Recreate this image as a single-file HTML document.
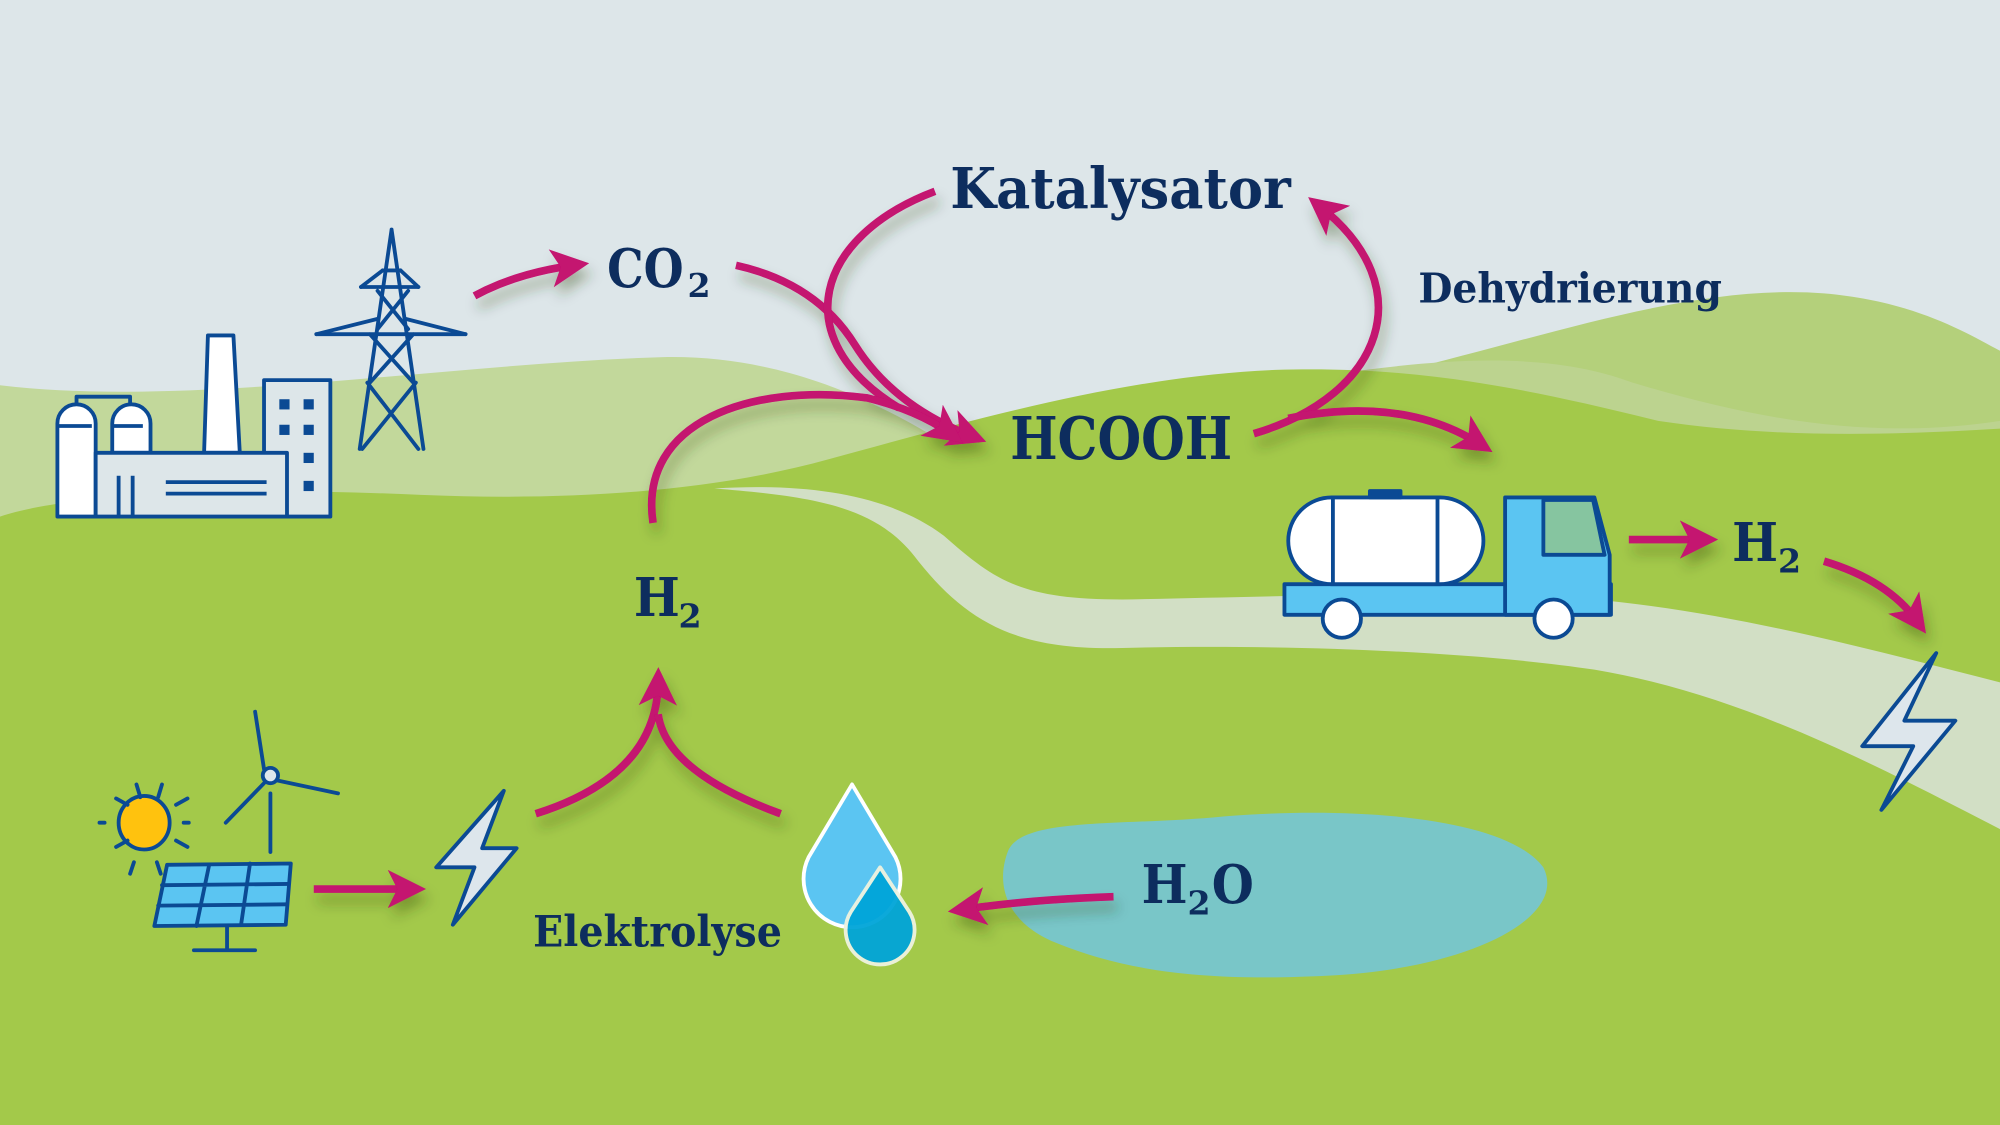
<!DOCTYPE html>
<html><head><meta charset="utf-8"><style>
html,body{margin:0;padding:0;width:2000px;height:1125px;overflow:hidden;background:#dde6e9}
svg{display:block}
text{font-family:"DejaVu Serif","Liberation Serif",serif;font-weight:bold;fill:#0d2d5e}
</style></head><body>
<svg width="2000" height="1125" viewBox="0 0 1568 882" xmlns="http://www.w3.org/2000/svg">
<defs>
<marker id="ah" viewBox="0 0 10 10" refX="6" refY="5" markerWidth="5" markerHeight="5" orient="auto" markerUnits="strokeWidth">
<path d="M0,0 L10,5 L0,10 L2.5,5 z" fill="#c4126f"/></marker>
<filter id="sh" x="-20%" y="-20%" width="140%" height="160%"><feDropShadow dx="3" dy="8" stdDeviation="5" flood-color="#2a3a10" flood-opacity="0.35"/></filter>
</defs>
<rect width="1568" height="882" fill="#dde6e9"/>
<path d="M1000,310 C1150,290 1300,220 1430,230 C1500,236 1540,260 1568,275 L1568,882 L1000,882 Z" fill="#b4d07b"/>
<path d="M0,302 C150,320 350,285 520,280 C620,278 700,320 760,360 L760,882 L0,882 Z" fill="#c2d89b"/>
<path d="M1000,300 C1100,285 1200,270 1280,300 C1380,330 1470,345 1568,330 L1568,882 L1000,882Z" fill="#bcd38f"/>
<path d="M0,405 C60,385 200,382 330,388 C450,393 560,385 650,360 C760,330 880,295 1000,290 C1100,287 1180,300 1300,330 C1400,345 1500,340 1568,336 L1568,882 L0,882 Z" fill="#a3c94a"/>
<path d="M560,383 C640,378 700,390 740,420 C780,455 800,470 880,470 C1000,468 1150,462 1250,470 C1360,480 1470,510 1568,535 L1568,650 C1480,605 1370,545 1250,525 C1150,510 1000,505 880,508 C800,510 760,490 720,440 C690,400 650,390 560,383 Z" fill="#d2dfc5"/>
<path d="M790,668 C800,640 880,648 960,640 C1060,632 1180,640 1210,680 C1230,720 1150,760 1040,765 C940,770 880,760 830,740 C790,725 780,695 790,668 Z" fill="#79c6c8"/>

<g stroke="#0b4a94" stroke-width="3" stroke-linejoin="round">
<path d="M45,405 L45,332 A15,15 0 0 1 75,332 L75,405 Z" fill="#fff"/>
<path d="M88,355 L88,332 A15,15 0 0 1 118,332 L118,355 Z" fill="#fff"/>
<path d="M60,317 L60,311 L102,311 L102,317" fill="none"/>
<line x1="46" y1="334" x2="72" y2="334"/><line x1="89" y1="334" x2="112" y2="334"/>
<path d="M163,263 L183,263 L188,355 L160,355 Z" fill="#fff"/>
<rect x="207" y="298" width="52" height="107" fill="#dde6e9"/>
<rect x="75" y="355" width="150" height="50" fill="#dde6e9"/>
<line x1="93" y1="373" x2="93" y2="405"/><line x1="104" y1="373" x2="104" y2="405"/>
<line x1="130" y1="378" x2="209" y2="378"/><line x1="130" y1="387" x2="209" y2="387"/>
</g>
<g fill="#0b4a94"><rect x="219" y="313" width="8" height="8"/><rect x="238" y="313" width="8" height="8"/><rect x="219" y="333" width="8" height="8"/><rect x="238" y="333" width="8" height="8"/><rect x="238" y="355" width="8" height="8"/><rect x="238" y="377" width="8" height="8"/></g>
<g stroke="#0b4a94" stroke-width="3" fill="none" stroke-linecap="round" stroke-linejoin="round">
<path d="M307,180 L282,352 M307,180 L332,352"/>
<path d="M283,225 L328,225 M300,212 L314,212 M248,262 L365,262 M296,228 L320,258 M320,228 L296,258 M290,262 L324,300 M324,262 L290,300 M288,300 L328,352 M326,300 L284,352"/>
<path d="M283,225 L300,212 M328,225 L314,212 M248,262 L296,250 M365,262 L318,250"/>
</g>

<g fill="none" stroke="#c4126f" stroke-width="6" marker-end="url(#ah)" filter="url(#sh)">
<path d="M372,232 Q405,214 450,208"/>
<path d="M577,208 Q640,222 670,270 Q700,318 762,342"/>
<path d="M733,150 C640,185 615,265 705,320" marker-end="none"/>
<path d="M512,410 C500,330 590,300 680,312 Q720,322 745,340" />
<path d="M983,340 C1085,310 1115,225 1035,162"/>
<path d="M1010,328 Q1100,310 1160,348"/>
<path d="M1277,423 L1335,423"/>
<path d="M1430,440 Q1480,455 1503,487"/>
<path d="M420,638 Q515,608 516,535"/>
<path d="M612,638 Q522,605 516,560" marker-end="none"/>
<path d="M246,697 L322,697"/>
<path d="M873,703 Q810,705 755,713"/>
</g>

<g stroke="#0b4a94" stroke-width="3" stroke-linejoin="round">
<rect x="1007" y="458" width="256" height="24" fill="#5bc5f2"/>
<path d="M1180,482 L1180,390 L1250,390 L1262,435 L1262,482 Z" fill="#5bc5f2"/>
<path d="M1210,392 L1249,392 L1258,435 L1210,435 Z" fill="#86c5a0"/>
<rect x="1010" y="390" width="153" height="68" rx="34" fill="#fff"/>
<rect x="1074" y="385" width="24" height="5" fill="#0b4a94"/>
<line x1="1045" y1="390" x2="1045" y2="458"/><line x1="1127" y1="390" x2="1127" y2="458"/>
<circle cx="1052" cy="485" r="15" fill="#fff"/><circle cx="1218" cy="485" r="15" fill="#fff"/>
</g>
<polygon points="1518,512 1460,585 1500,585 1475,635 1533,565 1493,565" fill="#dde6ec" stroke="#0b4a94" stroke-width="3" stroke-linejoin="round"/>
<polygon points="395,620 342,680 372,680 355,725 405,665 378,665" fill="#dde6ec" stroke="#0b4a94" stroke-width="3" stroke-linejoin="round"/>

<g stroke="#0b4a94" stroke-width="3" stroke-linecap="round">
<ellipse cx="113" cy="645" rx="20" ry="21" fill="#ffc20e"/>
<path d="M107,615 L110,625 M127,615 L124,625 M91,626 L100,631 M138,631 L147,626 M91,664 L100,659 M138,659 L147,664 M105,676 L102,685 M123,676 L126,685 M78,645 L82,645 M144,645 L148,645"/>
<path d="M207,603 L200,558 M218,612 L265,622 M207,614 L177,645 M212,622 L212,668" fill="none"/>
<circle cx="212" cy="608" r="6" fill="#dde6ec"/>
<path d="M131,678 L228,677 L224,725 L121,726 Z" fill="#5bc5f2" stroke-linejoin="round"/>
<path d="M127,694 L226,693 M124,710 L225,709 M164,678 L154,726 M196,677 L189,725 M178,726 L178,745 M152,745 L200,745" fill="none"/>
</g>

<path d="M668,615 L702,672 A38,38 0 1 1 634,672 Z" fill="#5bc5f2" stroke="#fff" stroke-width="3" stroke-linejoin="round"/>
<path d="M690,680 L713,715 A27,27 0 1 1 667,715 Z" fill="#00a5d9" stroke="#eef3e0" stroke-width="3" stroke-linejoin="round" opacity="0.95"/>

<text x="745" y="163" font-size="44" textLength="267" lengthAdjust="spacingAndGlyphs">Katalysator</text>
<text x="476" y="225" font-size="42" textLength="60" lengthAdjust="spacingAndGlyphs">CO</text><text x="539" y="233" font-size="26">2</text>
<text x="1112" y="237" font-size="32" textLength="238" lengthAdjust="spacingAndGlyphs">Dehydrierung</text>
<text x="792" y="360" font-size="46" textLength="174" lengthAdjust="spacingAndGlyphs">HCOOH</text>
<text x="497" y="483" font-size="42" textLength="36" lengthAdjust="spacingAndGlyphs">H</text><text x="532" y="492" font-size="26">2</text>
<text x="1358" y="440" font-size="42" textLength="36" lengthAdjust="spacingAndGlyphs">H</text><text x="1394" y="449" font-size="26">2</text>
<text x="895" y="708" font-size="42" textLength="36" lengthAdjust="spacingAndGlyphs">H</text><text x="931" y="717" font-size="26">2</text><text x="950" y="708" font-size="42" textLength="33" lengthAdjust="spacingAndGlyphs">O</text>
<text x="418" y="742" font-size="34" textLength="195" lengthAdjust="spacingAndGlyphs">Elektrolyse</text>
</svg>
</body></html>
